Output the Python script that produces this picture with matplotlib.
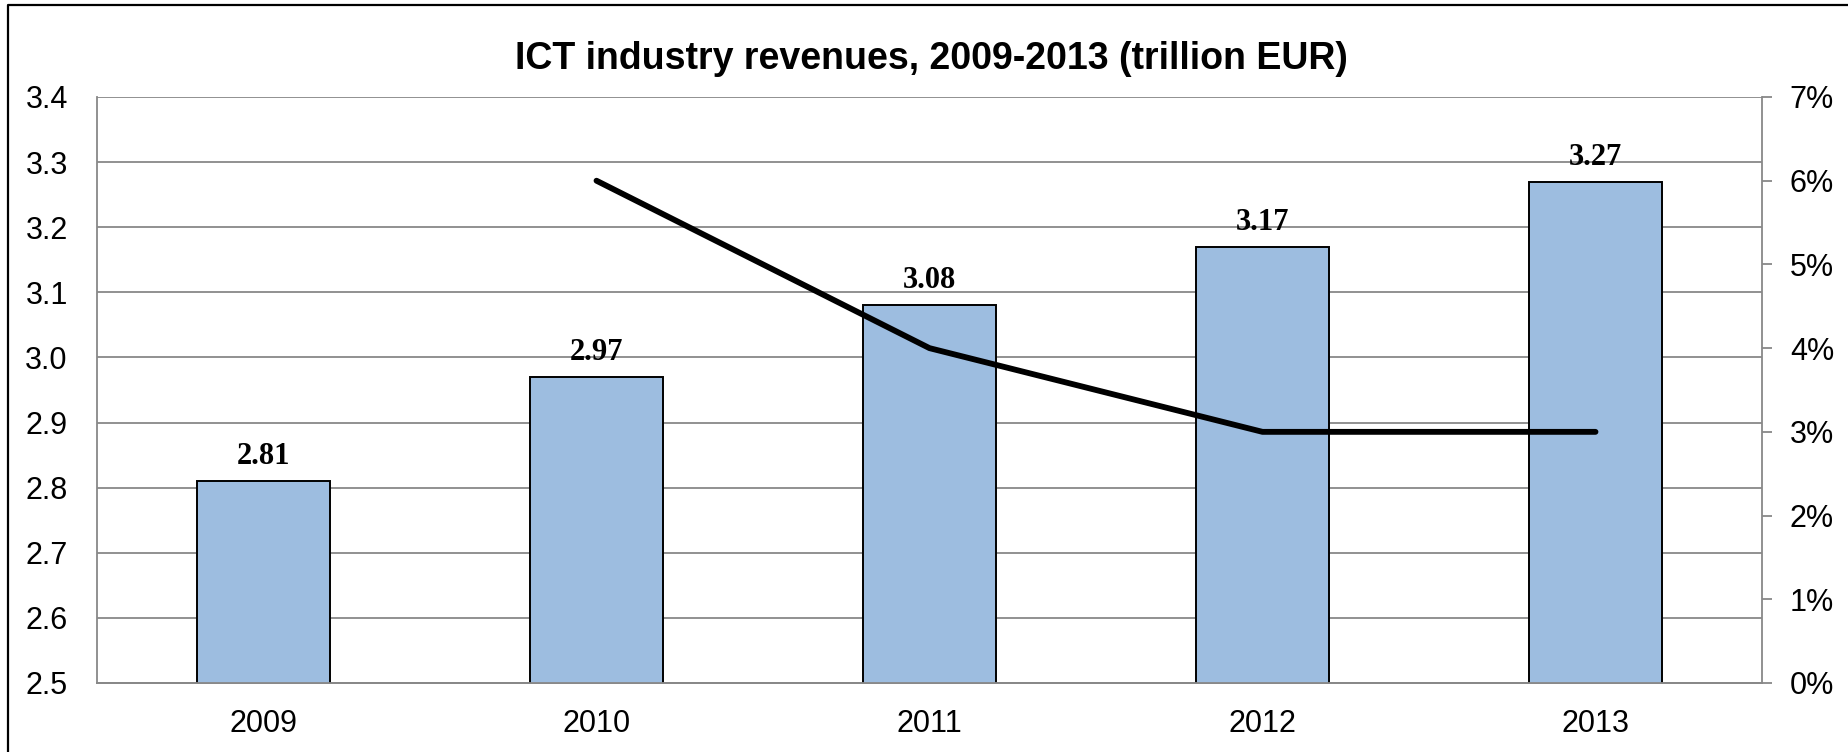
import numpy as np
import matplotlib
matplotlib.use('Agg')
from matplotlib import pyplot as plt
from matplotlib.lines import Line2D
from matplotlib.ticker import MultipleLocator, FuncFormatter

# data
years = ['2009', '2010', '2011', '2012', '2013']
revenues = [2.81, 2.97, 3.08, 3.17, 3.27]
growth_years = ['2010', '2011', '2012', '2013']
growth = [0.06, 0.04, 0.03, 0.03]

plt.rcParams['font.family'] = 'Liberation Sans'

W, H = 1849, 752
fig = plt.figure(figsize=(W/100, H/100), dpi=100)
ax1 = fig.add_axes([97/W, 1-683/H, (1762-97)/W, (683-97)/H])
ax2 = ax1.twinx()

x = np.arange(len(years))
xg = np.array([years.index(y) for y in growth_years])

grid_c = '#888888'
ax1.set_axisbelow(True)
ax1.yaxis.grid(True, color=grid_c, lw=1.3)
ax1.bar(x, revenues, 0.4, color='#9DBDE0', edgecolor='black', lw=1.4, zorder=3)
ax1.set_ylim(2.5, 3.4)
ax1.set_xlim(-0.5, 4.5)
ax1.yaxis.set_major_locator(MultipleLocator(0.1))
ax1.yaxis.set_major_formatter(FuncFormatter(lambda v, p: '%.1f' % v))
ax1.set_xticks(x)
ax1.set_xticklabels(years)
ax1.tick_params(axis='both', length=0, labelsize=22)
ax1.tick_params(axis='y', pad=21)
ax1.tick_params(axis='x', pad=19)

for xi, v in zip(x, revenues):
    ax1.annotate('%.2f' % v, (xi, v), xytext=(0, 12.2), textcoords='offset points',
                 ha='center', va='baseline', fontsize=22, fontweight='bold',
                 family='Liberation Serif', zorder=4)

ax2.plot(xg, growth, color='black', lw=4.2, solid_capstyle='round', solid_joinstyle='round')
ax2.set_ylim(0, 0.07)
ax2.yaxis.set_major_locator(MultipleLocator(0.01))
ax2.yaxis.set_major_formatter(FuncFormatter(lambda v, p: '%d%%' % round(v*100)))
ax2.tick_params(axis='y', length=7, width=1.3, color=grid_c, labelsize=22, pad=13)

for ax in (ax1, ax2):
    ax.spines['top'].set_visible(False)
    for s in ('left', 'right', 'bottom'):
        ax.spines[s].set_color(grid_c)
        ax.spines[s].set_linewidth(1.3)
ax1.spines['right'].set_visible(False)
ax2.spines['left'].set_visible(False)

fig.text(931/W, 1-59/H, 'ICT industry revenues, 2009-2013 (trillion EUR)',
         ha='center', va='center', fontsize=27, fontweight='bold')

# outer frame (only top and left edges visible)
fig.add_artist(Line2D([8/W, 8/W, 1.01], [-0.01, 1-5/H, 1-5/H], transform=fig.transFigure,
                      color='black', lw=1.6))

fig.savefig('out.png', dpi=100)
